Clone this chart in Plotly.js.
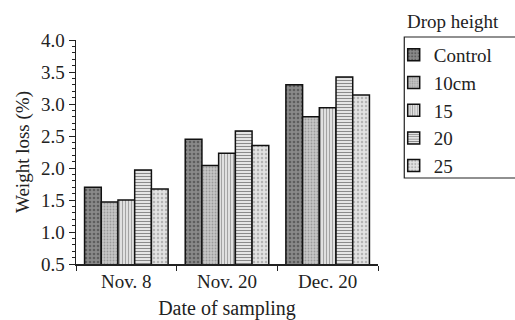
<!DOCTYPE html>
<html>
<head>
<meta charset="utf-8">
<script src="https://cdn.plot.ly/plotly-3.0.1.min.js"></script>
<style>html,body{margin:0;padding:0;background:#fff;}#chart{width:515px;height:320px;}</style>
</head>
<body>
<div id="chart"></div>
<script>
const dates = ["Nov. 8", "Nov. 20", "Dec. 20"];
const seriesNames = ["Control", "10cm", "15", "20", "25"];
const control = [1.70, 2.45, 3.30];
const cm10 = [1.47, 2.04, 2.80];
const cm15 = [1.50, 2.23, 2.94];
const cm20 = [1.97, 2.58, 3.42];
const cm25 = [1.67, 2.35, 3.14];
const yTickVals = [0.5, 1.0, 1.5, 2.0, 2.5, 3.0, 3.5, 4.0];
const yTickText = ["0.5", "1.0", "1.5", "2.0", "2.5", "3.0", "3.5", "4.0"];

const values = [control, cm10, cm15, cm20, cm25];
const styles = [
  {bg: "#8a8a8a", fg: "#5e5e5e", shape: ".", size: 4, solidity: 0.35},
  {bg: "#c6c6c6", fg: "#9a9a9a", shape: ".", size: 3, solidity: 0.3},
  {bg: "#e0e0e0", fg: "#9c9c9c", shape: "|", size: 3, solidity: 0.3},
  {bg: "#e4e4e4", fg: "#8a8a8a", shape: "-", size: 3, solidity: 0.35},
  {bg: "#e2e2e2", fg: "#b4b4b4", shape: ".", size: 4, solidity: 0.3}
];
const font = "Liberation Serif";

const traces = seriesNames.map((n, i) => ({
  type: "bar",
  name: n,
  x: dates,
  y: values[i],
  legendgroup: "g" + i,
  marker: {
    color: styles[i].bg,
    line: {color: "#111", width: 1.5},
    pattern: {shape: styles[i].shape, bgcolor: styles[i].bg, fgcolor: styles[i].fg, size: styles[i].size, solidity: styles[i].solidity, fillmode: "replace"}
  }
}));

const layout = {
  width: 515, height: 320,
  margin: {l: 76, r: 137, t: 40, b: 56},
  paper_bgcolor: "#fff", plot_bgcolor: "#fff",
  font: {family: font, size: 18, color: "#222"},
  barmode: "group",
  bargap: 0.17,
  bargroupgap: 0,
  showlegend: true,
  legend: {
    x: 1.052, y: 1.018, xanchor: "left", yanchor: "top",
    borderwidth: 0, bgcolor: "rgba(0,0,0,0)",
    font: {family: font, size: 19, color: "#222"},
    tracegroupgap: 0,
    itemwidth: 30
  },
  xaxis: {
    showline: true, linecolor: "#222", linewidth: 1.5,
    ticks: "outside", ticklen: 5, tickcolor: "#222",
    tickson: "boundaries",
    tickfont: {family: font, size: 19, color: "#222"},
    showgrid: false, zeroline: false,
    title: {text: "Date of sampling", font: {family: font, size: 20, color: "#222"}, standoff: 14}
  },
  yaxis: {
    range: [0.5, 4.0],
    showline: true, linecolor: "#222", linewidth: 1.5,
    ticks: "outside", ticklen: 6, tickcolor: "#222",
    tickvals: yTickVals, ticktext: yTickText,
    tickfont: {family: font, size: 19, color: "#222"},
    minor: {dtick: 0.1, ticks: "outside", ticklen: 3, tickcolor: "#222"},
    showgrid: false, zeroline: false,
    title: {text: "Weight loss (%)", font: {family: font, size: 19, color: "#222"}, standoff: 6}
  },
  shapes: [{
    type: "rect", xref: "paper", yref: "paper",
    x0: 1.087, x1: 1.7, y0: 1.0134, y1: 0.384,
    line: {color: "#222", width: 1.2}, fillcolor: "rgba(0,0,0,0)"
  }],
  annotations: [{
    text: "Drop height", xref: "paper", yref: "paper",
    x: 1.09, y: 1.025, xanchor: "left", yanchor: "bottom",
    showarrow: false, font: {family: font, size: 19, color: "#222"}
  }]
};

Plotly.newPlot("chart", traces, layout, {displayModeBar: false, staticPlot: true});
</script>
</body>
</html>
